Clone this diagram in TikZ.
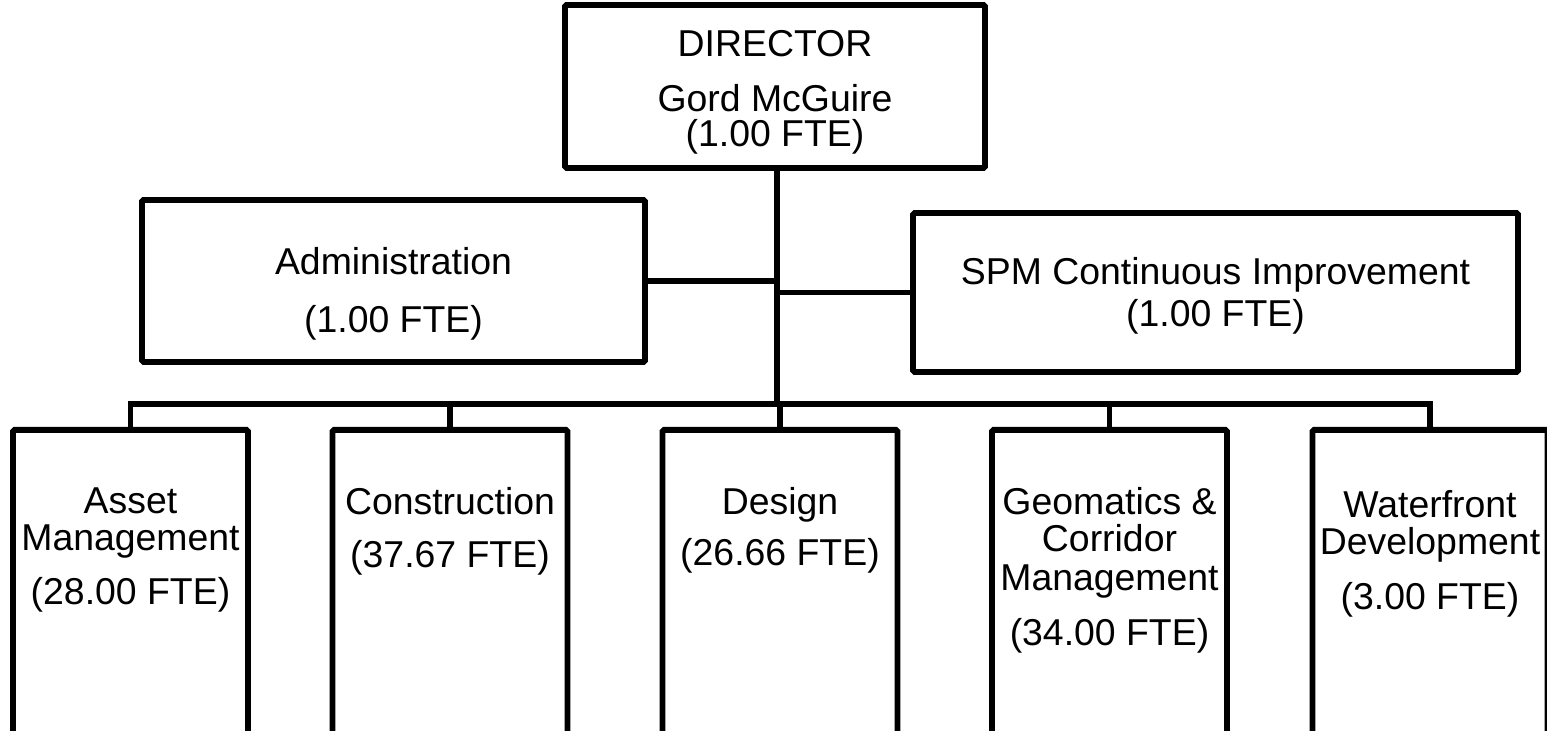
\documentclass[tikz,border=0pt]{standalone}
\usepackage{fontspec}
\setmainfont{Liberation Sans}
\usetikzlibrary{positioning}
\tikzset{
    unit/.style={draw, line width=2.9pt, rounded corners=0.8pt, inner sep=0pt},
    dept/.style={unit, anchor=north, minimum width=117.5pt, minimum height=200pt},
    caption/.style={inner sep=0pt, anchor=north, align=center, font=\fontsize{18.7}{18.5}\selectfont},
    link/.style={line width=2.9pt}
}

\begin{document}
\begin{tikzpicture}[x=0.5pt, y=-0.5pt]
    \useasboundingbox (0, 0) rectangle (1547, 731);
    \clip (0, 0) rectangle (1547, 731);

    \node [unit, minimum width=210pt, minimum height=81.5pt] (director) at (775, 86.5) {};
    \node [unit, minimum width=251.5pt, minimum height=81pt] (admin) at (393.5, 281) {};
    \node [unit, minimum width=302.5pt, minimum height=79.5pt] (spm) at (1215.5, 292.5) {};

    \node [dept] (asset) at (130.5, 427) {};
    \node [dept] (construction) at (450, 427) {};
    \node [dept] (design) at (780, 427) {};
    \node [dept] (geomatics) at (1109.5, 427) {};
    \node [dept] (waterfront) at (1430, 427) {};

    \node [caption, below=14pt of director.north] (director-txt) {DIRECTOR\\[9pt]Gord McGuire\\[-1pt](1.00 FTE)};
    \node [caption, below=25pt of admin.north] (admin-txt) {Administration\\[10.5pt](1.00 FTE)};
    \node [caption, below=23.5pt of spm.north] (spm-txt) {SPM Continuous Improvement\\[2.5pt](1.00 FTE)};
    \node [caption, below=30pt of asset.north] (asset-txt) {Asset\\Management\\[8.5pt](28.00 FTE)};
    \node [caption, below=30pt of construction.north] (construction-txt) {Construction\\[8pt](37.67 FTE)};
    \node [caption, below=30pt of design.north] (design-txt) {Design\\[7pt](26.66 FTE)};
    \node [caption, below=30pt of geomatics.north] (geomatics-txt) {Geomatics \&\\Corridor\\[1pt]Management\\[9pt](34.00 FTE)};
    \node [caption, below=31.5pt of waterfront.north] (waterfront-txt) {Waterfront\\Development\\[9pt](3.00 FTE)};

    \coordinate (bus) at (777, 404);
    \draw [link] (director.south -| bus) -- (bus);
    \draw [link] (admin.east) -- (admin.east -| bus);
    \draw [link] (spm.west) -- (spm.west -| bus);
    \draw [link] (asset.north) |- (bus) -| (waterfront.north);
    \foreach \d in {construction, design, geomatics}
        \draw [link] (\d.north) -- (\d.north |- bus);
\end{tikzpicture}
\end{document}
